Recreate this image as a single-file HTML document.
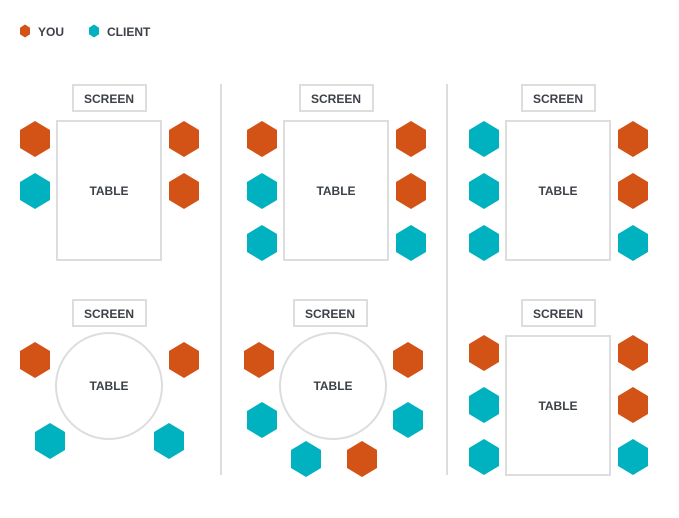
<!DOCTYPE html><html><head><style>body{margin:0;background:#fff}svg{display:block}text{font-family:"Liberation Sans",Arial,sans-serif;font-weight:bold;fill:#3d4148}</style></head><body>
<svg width="679" height="518" viewBox="0 0 679 518" xmlns="http://www.w3.org/2000/svg">
<defs>
<polygon id="h" points="0,-18 15,-9 15,9 0,18 -15,9 -15,-9"/>
<polygon id="s" points="0,-6.5 5,-3.3 5,3.3 0,6.5 -5,3.3 -5,-3.3"/>
</defs>
<use href="#s" x="25" y="31" fill="#d35215"/><text x="38" y="36" font-size="12">YOU</text>
<use href="#s" x="94" y="31" fill="#00b2bf"/><text x="107" y="36" font-size="12">CLIENT</text>
<g stroke="#ddd" stroke-width="2" fill="none">
<line x1="221" y1="84" x2="221" y2="475"/><line x1="447" y1="84" x2="447" y2="475"/>
<rect x="73" y="85" width="73" height="26"/><rect x="57" y="121" width="104" height="139"/>
<rect x="300" y="85" width="73" height="26"/><rect x="284" y="121" width="104" height="139"/>
<rect x="522" y="85" width="73" height="26"/><rect x="506" y="121" width="104" height="139"/>
<rect x="73" y="300" width="73" height="26"/><circle cx="109" cy="386" r="53"/>
<rect x="294" y="300" width="73" height="26"/><circle cx="333" cy="386" r="53"/>
<rect x="522" y="300" width="73" height="26"/><rect x="506" y="336" width="104" height="139"/>
</g>
<g font-size="12" text-anchor="middle">
<text x="109" y="103">SCREEN</text><text x="109" y="195">TABLE</text>
<text x="336" y="103">SCREEN</text><text x="336" y="195">TABLE</text>
<text x="558" y="103">SCREEN</text><text x="558" y="195">TABLE</text>
<text x="109" y="318">SCREEN</text><text x="109" y="390">TABLE</text>
<text x="330" y="318">SCREEN</text><text x="333" y="390">TABLE</text>
<text x="558" y="318">SCREEN</text><text x="558" y="410">TABLE</text>
</g>
<g fill="#d35215">
<use href="#h" x="35" y="139"/><use href="#h" x="184" y="139"/><use href="#h" x="184" y="191"/>
<use href="#h" x="262" y="139"/><use href="#h" x="411" y="139"/><use href="#h" x="411" y="191"/>
<use href="#h" x="633" y="139"/><use href="#h" x="633" y="191"/>
<use href="#h" x="35" y="360"/><use href="#h" x="184" y="360"/>
<use href="#h" x="259" y="360"/><use href="#h" x="408" y="360"/><use href="#h" x="362" y="459"/>
<use href="#h" x="484" y="353"/><use href="#h" x="633" y="353"/><use href="#h" x="633" y="405"/>
</g>
<g fill="#00b2bf">
<use href="#h" x="35" y="191"/>
<use href="#h" x="262" y="191"/><use href="#h" x="262" y="243"/><use href="#h" x="411" y="243"/>
<use href="#h" x="484" y="139"/><use href="#h" x="484" y="191"/><use href="#h" x="484" y="243"/><use href="#h" x="633" y="243"/>
<use href="#h" x="50" y="441"/><use href="#h" x="169" y="441"/>
<use href="#h" x="262" y="420"/><use href="#h" x="408" y="420"/><use href="#h" x="306" y="459"/>
<use href="#h" x="484" y="405"/><use href="#h" x="484" y="457"/><use href="#h" x="633" y="457"/>
</g>
</svg></body></html>
